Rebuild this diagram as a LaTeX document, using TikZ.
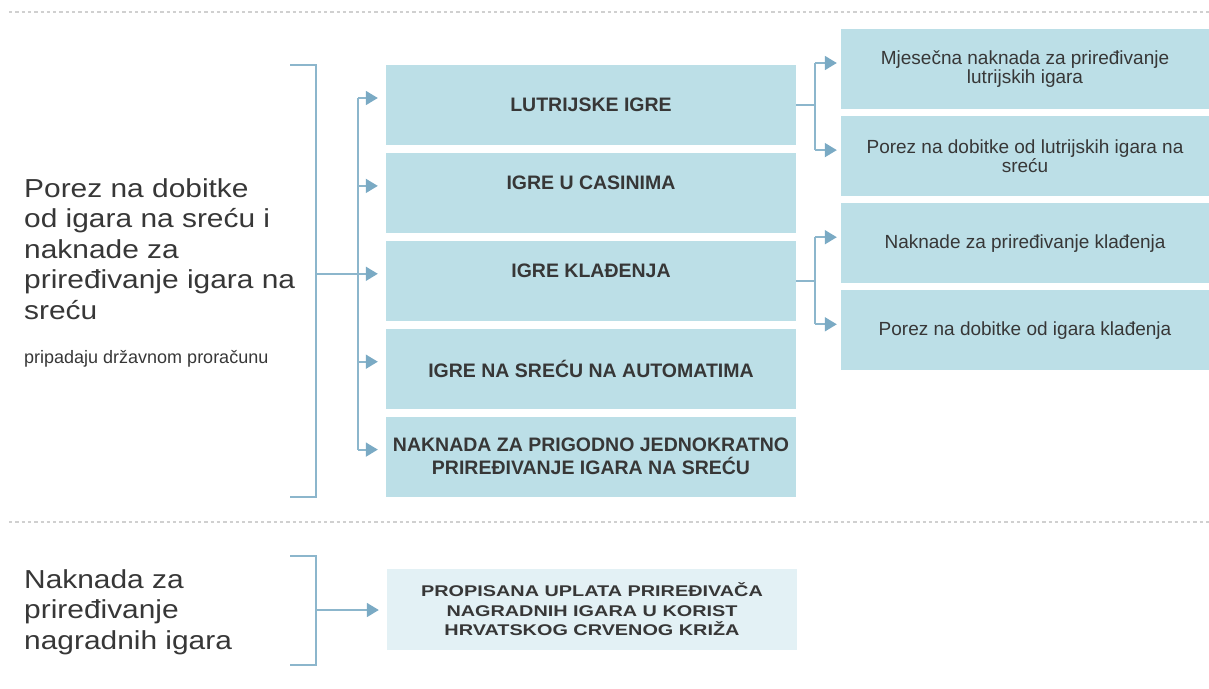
\documentclass[tikz,border=0pt]{standalone}
\usepackage{fontspec}
\setmainfont{Liberation Sans}
\newfontfamily\widefont[FakeStretch=1.15]{Liberation Sans}
\newfontfamily\boxfont[FakeStretch=1.28]{Liberation Sans}
\usepackage{tikz}
\usetikzlibrary{positioning,chains,calc,arrows.meta}
\definecolor{boxblue}{RGB}{188,223,231}
\definecolor{paleblue}{RGB}{227,241,245}
\definecolor{linkblue}{RGB}{140,182,204}
\definecolor{tipblue}{RGB}{122,170,196}
\definecolor{textgray}{RGB}{55,55,55}
\definecolor{dotgray}{RGB}{208,208,208}

\begin{document}
\begin{tikzpicture}[x=1pt,y=-1pt,
		  every node/.style={inner sep=0pt,text=textgray},
		  gamebox/.style={fill=boxblue,minimum width=410pt,minimum height=80pt,align=center,
		    font=\bfseries\fontsize{19.5}{23}\selectfont},
		  feebox/.style={fill=boxblue,minimum width=368pt,minimum height=80pt,align=center,
		    font=\fontsize{19}{19.5}\selectfont},
		  upper/.style={text depth=20pt},
		  conn/.style={draw=linkblue,line width=1.8pt},
		  tip/.style={-{Triangle[length=12pt,width=14pt,color=tipblue]}},
		  sep/.style={draw=dotgray,line width=2pt,dash pattern=on 3.3pt off 3pt}
		]
			\useasboundingbox (0,0) rectangle (1209,688);

			% dotted separators
			\draw[sep] (9,12) -- (1209,12);
			\draw[sep] (9,522) -- (1209,522);

			% the kinds of games
			\begin{scope}[shift={(591,105)},start chain=going below,node distance=7.5pt]
			  \node[gamebox,on chain] (lut) {LUTRIJSKE IGRE};
			  \node[gamebox,upper,on chain] (cas) {IGRE U CASINIMA};
			  \node[gamebox,upper,on chain] (kla) {IGRE KLAĐENJA};
			  \node[gamebox,on chain] (aut) {IGRE NA SREĆU NA AUTOMATIMA};
			  \node[gamebox,on chain] (prig) {NAKNADA ZA PRIGODNO JEDNOKRATNO\\PRIREĐIVANJE IGARA NA SREĆU};
			\end{scope}

			% the fees and taxes
			\begin{scope}[shift={(1025,69)},start chain=going below,node distance=6.7pt]
			  \node[feebox,on chain] (r1) {Mjesečna naknada za priređivanje\\lutrijskih igara};
			  \node[feebox,on chain] (r2) {Porez na dobitke od lutrijskih igara na\\sreću};
			  \node[feebox,on chain] (r3) {Naknade za priređivanje klađenja};
			  \node[feebox,on chain] (r4) {Porez na dobitke od igara klađenja};
			\end{scope}

			% prize games
			\node[fill=paleblue,minimum width=410pt,minimum height=81pt,align=center,
			  font=\boxfont\bfseries\fontsize{15.5}{19.5}\selectfont] (nag) at (592,609.5)
			  {PROPISANA UPLATA PRIREĐIVAČA\\NAGRADNIH IGARA U KORIST\\HRVATSKOG CRVENOG KRIŽA};

			% the left texts
			\node[anchor=north west,align=left,font=\widefont\fontsize{26}{30.5}\selectfont] (tax) at (24,178)
			  {Porez na dobitke\\od igara na sreću i\\naknade za\\priređivanje igara na\\sreću};
			\node[anchor=base west,font=\fontsize{18}{22}\selectfont] (sub) at (24,363) {pripadaju državnom proračunu};
			\node[anchor=north west,align=left,font=\widefont\fontsize{26}{30.5}\selectfont] (prize) at (24,569)
			  {Naknada za\\priređivanje\\nagradnih igara};

			% the brackets and arrows on the left
			\coordinate (brace) at (316,0);
			\coordinate (spine) at (358,0);
			\foreach \b in {lut,cas,kla,aut,prig}
			  \coordinate (\b-in) at ([yshift=7pt]\b.west);
			\draw[conn] ($(lut.north -| brace)+(-26,0)$) -- (lut.north -| brace)
			  -- (prig.south -| brace) -- ($(prig.south -| brace)+(-26,0)$);
			\draw[conn] (kla-in -| brace) -- (kla-in -| spine);
			\draw[conn] (lut-in -| spine) -- (prig-in -| spine);
			\foreach \b in {lut,cas,kla,aut,prig}
			  \draw[conn,tip,shorten >=8pt] (\b-in -| spine) -- (\b-in);

			% the arrows on the right
			\foreach \r in {r1,r2,r3,r4}
			  \coordinate (\r-in) at ([yshift=6pt]\r.west);
			\draw[conn] (lut.east) -- ++(19,0) coordinate (lj);
			\draw[conn] (kla.east) -- ++(19,0) coordinate (kj);
			\draw[conn] (lj |- r1-in) -- (lj |- r2-in);
			\draw[conn] (kj |- r3-in) -- (kj |- r4-in);
			\draw[conn,tip,shorten >=4pt] (lj |- r1-in) -- (r1-in);
			\draw[conn,tip,shorten >=4pt] (lj |- r2-in) -- (r2-in);
			\draw[conn,tip,shorten >=4pt] (kj |- r3-in) -- (r3-in);
			\draw[conn,tip,shorten >=4pt] (kj |- r4-in) -- (r4-in);

			% the lower bracket
			\coordinate (brace2) at (316,610);
			\draw[conn] ($(brace2)+(-26,-54)$) -- ($(brace2)+(0,-54)$)
			  -- ($(brace2)+(0,55)$) -- ($(brace2)+(-26,55)$);
			\draw[conn,tip,shorten >=8pt] (brace2) -- (brace2 -| nag.west);

		\end{tikzpicture}
\end{document}
